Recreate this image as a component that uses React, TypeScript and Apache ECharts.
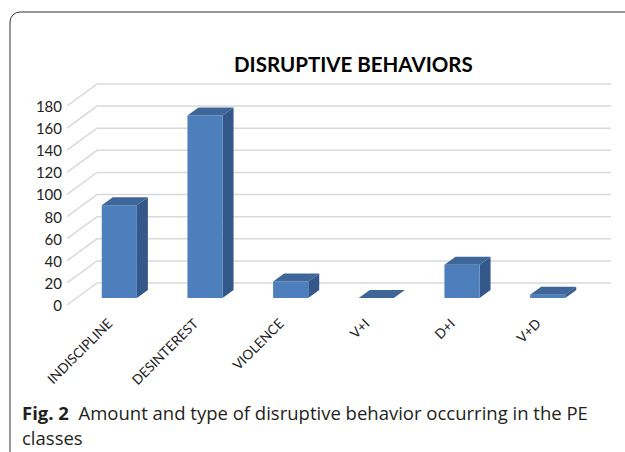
import React, { useEffect, useRef } from "react";
import * as echarts from "echarts";

const categories = ["INDISCIPLINE", "DESINTEREST", "VIOLENCE", "V+I", "D+I", "V+D"];
const values = [84, 165, 15, 0, 30, 3];
const gridValues = [0, 20, 40, 60, 80, 100, 120, 140, 160, 180];
const titleText = "DISRUPTIVE BEHAVIORS";
const captionBold = "Fig. 2";
const captionLine1 = "Amount and type of disruptive behavior occurring in the PE";
const captionLine2 = "classes";

export default function App() {
  const ref = useRef<HTMLDivElement>(null);
  useEffect(() => {
    if (!ref.current) return;
    const chart = echarts.init(ref.current, undefined, { renderer: "svg" });
    const DX = 30, DY = -22; // floor depth
    const BDX = 11, BDY = -8; // bar depth
    const option: any = {
      animation: false,
      backgroundColor: "#ffffff",
      title: {
        text: titleText,
        left: 229,
        top: 48,
        textStyle: { fontFamily: "Lato", fontWeight: "bold", fontSize: 20.5, color: "#000" },
      },
      grid: [
        { left: 67, top: 106, width: 514, height: 199 },
        { left: 76.5, top: 99, width: 514, height: 199 },
      ],
      xAxis: [
        {
          type: "category",
          gridIndex: 0,
          data: categories,
          axisLine: { show: false },
          axisTick: { show: false },
          axisLabel: { rotate: 45, margin: 16, fontFamily: "Lato", fontSize: 13.5, color: "#222", interval: 0 },
        },
        { type: "category", gridIndex: 1, data: categories, show: false },
      ],
      yAxis: [
        {
          type: "value",
          gridIndex: 0,
          min: 0,
          max: 180,
          interval: 20,
          axisLine: { show: false },
          axisTick: { show: false },
          splitLine: { show: false },
          axisLabel: { margin: 5, fontFamily: "Lato", fontSize: 15, color: "#222" },
        },
        { type: "value", gridIndex: 1, min: 0, max: 180, interval: 20, show: false, splitLine: { show: false } },
      ],
      series: [
        {
          type: "custom",
          name: "walls",
          xAxisIndex: 0,
          yAxisIndex: 0,
          z: 1,
          data: gridValues.map((v) => [0, v]),
          renderItem: (params: any, api: any) => {
            const v = api.value(1);
            const p = api.coord([0, v]);
            const half = api.size([1, 0])[0] / 2;
            const xl = p[0] - half;
            const xr = api.coord([categories.length - 1, v])[0] + half;
            return {
              type: "polyline",
              shape: { points: [[xl, p[1]], [xl + DX, p[1] + DY], [xr + DX, p[1] + DY]] },
              style: { stroke: "#d9d9d9", lineWidth: 1.5, fill: "none" },
            };
          },
        },
        {
          type: "custom",
          name: "bars",
          xAxisIndex: 1,
          yAxisIndex: 1,
          z: 5,
          data: values.map((v, i) => [i, v]),
          renderItem: (params: any, api: any) => {
            const i = api.value(0);
            const v = api.value(1);
            const base = api.coord([i, 0]);
            const top = api.coord([i, v]);
            const w = api.size([1, 0])[0] * 0.41;
            const x0 = base[0] - w / 2;
            const x1 = x0 + w;
            const yb = base[1];
            const yt = top[1];
            return {
              type: "group",
              children: [
                {
                  type: "polygon",
                  shape: { points: [[x1, yb], [x1 + BDX, yb + BDY], [x1 + BDX, yt + BDY], [x1, yt]] },
                  style: { fill: "#34588a" },
                },
                {
                  type: "rect",
                  shape: { x: x0, y: yt, width: w, height: Math.max(yb - yt, 0) },
                  style: { fill: "#4d7fbc" },
                },
                {
                  type: "polygon",
                  shape: { points: [[x0, yt], [x0 + BDX, yt + BDY], [x1 + BDX, yt + BDY], [x1, yt]] },
                  style: { fill: "#3e6699" },
                },
              ],
            };
          },
        },
      ],
      graphic: [
        {
          type: "rect",
          shape: { x: 10, y: 12, width: 700, height: 600, r: 10 },
          style: { fill: "none", stroke: "#333", lineWidth: 1 },
          silent: true,
        },
        {
          type: "text",
          x: 22,
          y: 412,
          style: {
            text: "{b|" + captionBold + "}  " + captionLine1,
            fontFamily: "Open Sans",
            fontSize: 18.5,
            fill: "#231f20",
            verticalAlign: "middle",
            rich: { b: { fontFamily: "Open Sans", fontWeight: "bold", fontSize: 18.5, fill: "#231f20" } },
          },
        },
        {
          type: "text",
          x: 22,
          y: 437,
          style: { text: captionLine2, fontFamily: "Open Sans", fontSize: 18.5, fill: "#231f20", verticalAlign: "middle" },
        },
      ],
    };
    chart.setOption(option);
    return () => chart.dispose();
  }, []);
  return <div ref={ref} style={{ position: "absolute", left: 0, top: 0, width: 625, height: 452 }} />;
}
